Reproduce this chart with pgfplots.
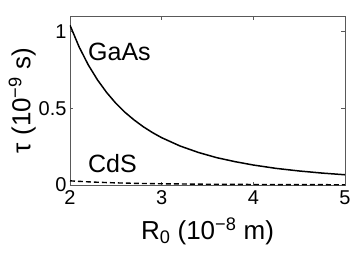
\documentclass[border=0pt]{standalone}
\usepackage{fontspec}
\setmainfont{Liberation Sans}
\usepackage{pgfplots}
\pgfplotsset{compat=1.18}
\begin{document}
\begin{tikzpicture}
\begin{axis}[
  scale only axis, width=275pt, height=169pt,
  xmin=2, xmax=5, ymin=0, ymax=1.1,
  xtick={2,3,4,5}, ytick={0,0.5,1},
  tick align=inside, major tick length=3.5pt,
  axis line style={gray!70!black, line width=0.8pt},
  tick style={gray!70!black, line width=0.6pt},
  /pgf/number format/assume math mode=true,
  tick label style={font=\fontsize{20}{24}\selectfont},
  xticklabel style={yshift=-2pt},
  label style={font=\fontsize{26}{30}\selectfont},
  xlabel={R\textsubscript{0} (10\textsuperscript{−8} m)},
  ylabel={τ (10\textsuperscript{−9} s)},
  xlabel style={yshift=-6pt},
  ylabel style={yshift=-4pt},
  clip=true,
]
\addplot[black, line width=1.5pt] coordinates {
(2.0,1.040) (2.1,0.898) (2.2,0.781) (2.3,0.684) (2.4,0.602) (2.5,0.532)
(2.6,0.473) (2.7,0.423) (2.8,0.379) (2.9,0.341) (3.0,0.308) (3.2,0.254)
(3.4,0.212) (3.6,0.178) (3.8,0.152) (4.0,0.130) (4.25,0.108) (4.5,0.0913)
(4.75,0.0776) (5.0,0.0666)
};
\addplot[black, line width=1.4pt, dash pattern=on 5pt off 3pt] coordinates {
(2.0,0.027) (2.25,0.019) (2.5,0.0138) (2.75,0.0104) (3.0,0.0080) (3.5,0.0050) (4.0,0.0034) (4.5,0.0024) (5.0,0.0017)
};
\node[anchor=base west, inner sep=0pt, font=\fontsize{25}{30}\selectfont] at (axis cs:2.196,0.81) {GaAs};
\node[anchor=base west, inner sep=0pt, font=\fontsize{25}{30}\selectfont] at (axis cs:2.196,0.084) {CdS};
\end{axis}
\pgfresetboundingbox
\path[use as bounding box] (-70pt,-75pt) rectangle (284pt,185pt);
\end{tikzpicture}
\end{document}
